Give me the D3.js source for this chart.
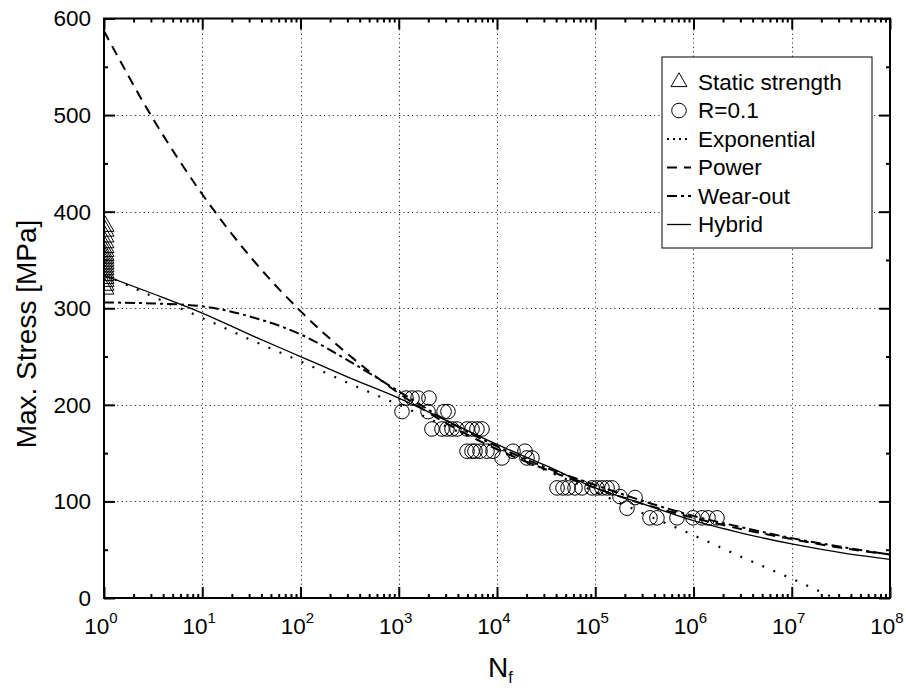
<!DOCTYPE html>
<html>
<head>
<meta charset="utf-8">
<script src="https://cdn.jsdelivr.net/npm/d3@7/dist/d3.min.js"></script>
<style>
  html, body { margin: 0; padding: 0; background: #fff; }
  svg { display: block; font-family: Arial, "Liberation Sans", sans-serif; }
</style>
</head>
<body>
<svg id="chart" width="906" height="690"></svg>
<script>
// ---- data ----
// static strength tests (N = 1)
const staticN = [1,1,1,1,1,1,1,1,1,1,1,1,1,1,1,1,1,1];
const staticS = [385,380,374,368,363,359,355,352,349,346,343,340,337,334,331,328,324,320];

// fatigue tests, R = 0.1
const fatigueN = [1186,1365,1570,2032,
  1079,1986,2891,3170,
  2178,2754,3097,3483,3917,4955,5572,6252,7031,
  4955,5572,5970,6714,7907,9099,14550,19280,
  11250,20180,22700,
  40830,46990,52840,62230,73280,92680,104200,117200,131800,147900,
  178600,254100,210400,
  360600,424600,679200,988500,1222000,1406000,1734000];
const fatigueS = [207,207,207,207,
  193,193,193,193,
  175,175,175,175,175,175,175,175,175,
  152,152,152,152,152,152,152,152,
  145,145,145,
  114,114,114,114,114,114,114,114,114,114,
  105,104,93,
  83,83,83,83,83,83,83];

// model curves sampled every half decade (N = 10^k)
const curveExp = [0,0.5,1,1.5,2,2.5,3,3.5,4,4.5,5,5.5,6,6.5,7,7.5,8];
const expoS   = [335,312,290,267,245,222,200,177,155,132,110,87,65,42,20,-3,-25];
const powerS  = [587,496,418,352,297,251,212,180,154,133,114,97,83,71,61,52,45];
const wearS   = [306,305,302,291,273,245,214,183,157,135,117,100,85,73,62,53,45];
const hybridS = [334,315,295,272,250,228,207,183,159,137,114,97,80,67,56,47,40];

const xMajor = [1e0,1e1,1e2,1e3,1e4,1e5,1e6,1e7,1e8];
const xMajorExp = ["0","1","2","3","4","5","6","7","8"];
const yMajor = [0,100,200,300,400,500,600];
const yMinor = [50,150,250,350,450,550];

const legendLabels = ["Static strength","R=0.1","Exponential","Power","Wear-out","Hybrid"];

// ---- layout ----
const svg = d3.select("#chart");
const L = 104, R = 890, T = 18.5, B = 598;
const x = d3.scaleLog().domain([1, 1e8]).range([L, R]);
const y = d3.scaleLinear().domain([0, 600]).range([B, T]);
const fontTick = 22.5;

svg.append("defs").append("clipPath").attr("id", "plotclip")
  .append("rect").attr("x", L).attr("y", T).attr("width", R - L).attr("height", B - T);

// ---- grid ----
const grid = svg.append("g").attr("stroke", "#333").attr("stroke-width", 1)
  .attr("stroke-dasharray", "1.2,3.2");
grid.selectAll("line.gx").data(xMajor.slice(1, -1)).join("line")
  .attr("x1", d => Math.round(x(d)) + 0.5).attr("x2", d => Math.round(x(d)) + 0.5)
  .attr("y1", B).attr("y2", T);
grid.selectAll("line.gy").data(yMajor.slice(1, -1)).join("line")
  .attr("x1", L).attr("x2", R)
  .attr("y1", d => Math.round(y(d)) + 0.5).attr("y2", d => Math.round(y(d)) + 0.5);

// ---- data layer ----
const plot = svg.append("g").attr("clip-path", "url(#plotclip)");

const pts = arr => curveExp.map((k, i) => [Math.pow(10, k), arr[i]]);
const line = d3.line().x(d => x(d[0])).y(d => y(d[1])).curve(d3.curveMonotoneX);

const styles = {
  expo:   {dash: "2,10", w: 2.2},
  power:  {dash: "10,7", w: 2},
  wear:   {dash: "10,4,3,4", w: 2},
  hybrid: {dash: null, w: 1.3}
};
const series = [
  {key: "expo", vals: expoS},
  {key: "power", vals: powerS},
  {key: "wear", vals: wearS},
  {key: "hybrid", vals: hybridS}
];
series.forEach(s => {
  const st = styles[s.key];
  plot.append("path").datum(pts(s.vals))
    .attr("d", line).attr("fill", "none").attr("stroke", "#000")
    .attr("stroke-width", st.w).attr("stroke-dasharray", st.dash);
});

const tri = d3.symbol().type(d3.symbolTriangle).size(140);
plot.selectAll("path.tri").data(staticN.map((n, i) => [n, staticS[i]])).join("path")
  .attr("class", "tri").attr("d", tri)
  .attr("transform", d => `translate(${x(d[0]) + 1},${y(d[1])})`)
  .attr("fill", "none").attr("stroke", "#000").attr("stroke-width", 1);

plot.selectAll("circle.pt").data(fatigueN.map((n, i) => [n, fatigueS[i]])).join("circle")
  .attr("class", "pt").attr("cx", d => x(d[0])).attr("cy", d => y(d[1])).attr("r", 7.3)
  .attr("fill", "none").attr("stroke", "#000").attr("stroke-width", 1);

// ---- axes ----
const minorX = [];
for (let e = 0; e < 8; e++) for (let m = 2; m <= 9; m++) minorX.push(m * Math.pow(10, e));

function styleAxis(g) {
  g.select(".domain").remove();
  g.selectAll(".tick line").attr("stroke", "#000").attr("stroke-width", 2);
  g.selectAll(".tick text").remove();
}
svg.append("g").attr("transform", `translate(0,${B})`)
  .call(d3.axisBottom(x).tickValues(xMajor).tickSize(-11).tickFormat(() => "")).call(styleAxis);
svg.append("g").attr("transform", `translate(0,${B})`)
  .call(d3.axisBottom(x).tickValues(minorX).tickSize(-4).tickFormat(() => "")).call(styleAxis);
svg.append("g").attr("transform", `translate(0,${T})`)
  .call(d3.axisTop(x).tickValues(xMajor).tickSize(-11).tickFormat(() => "")).call(styleAxis);
svg.append("g").attr("transform", `translate(0,${T})`)
  .call(d3.axisTop(x).tickValues(minorX).tickSize(-4).tickFormat(() => "")).call(styleAxis);
svg.append("g").attr("transform", `translate(${L},0)`)
  .call(d3.axisLeft(y).tickValues(yMajor).tickSize(-11).tickFormat(() => "")).call(styleAxis);
svg.append("g").attr("transform", `translate(${L},0)`)
  .call(d3.axisLeft(y).tickValues(yMinor).tickSize(-4).tickFormat(() => "")).call(styleAxis);
svg.append("g").attr("transform", `translate(${R},0)`)
  .call(d3.axisRight(y).tickValues(yMajor).tickSize(-11).tickFormat(() => "")).call(styleAxis);
svg.append("g").attr("transform", `translate(${R},0)`)
  .call(d3.axisRight(y).tickValues(yMinor).tickSize(-4).tickFormat(() => "")).call(styleAxis);

// frame
svg.append("rect").attr("x", L).attr("y", T).attr("width", R - L).attr("height", B - T)
  .attr("fill", "none").attr("stroke", "#000").attr("stroke-width", 2);

// y tick labels
svg.append("g").selectAll("text").data(yMajor).join("text")
  .attr("x", L - 13).attr("y", d => y(d)).attr("dy", "0.35em")
  .attr("text-anchor", "end").attr("font-size", fontTick).text(d => d);

// x tick labels: 10 with superscript exponent
const xl = svg.append("g").selectAll("text").data(xMajor).join("text")
  .attr("x", d => x(d) - 3).attr("y", 634).attr("text-anchor", "middle")
  .attr("font-size", fontTick);
xl.append("tspan").text("10");
xl.append("tspan").attr("font-size", 15).attr("dy", -11).text((d, i) => xMajorExp[i]);

// axis titles
const xt = svg.append("text").attr("x", 488).attr("y", 677).attr("font-size", 28);
xt.append("tspan").text("N");
xt.append("tspan").attr("font-size", 16).attr("dy", 6).text("f");

svg.append("text").attr("transform", "translate(36,334) rotate(-90)")
  .attr("text-anchor", "middle").attr("font-size", 28).text("Max. Stress [MPa]");

// ---- legend ----
const lg = svg.append("g");
lg.append("rect").attr("x", 662).attr("y", 57).attr("width", 210).attr("height", 191)
  .attr("fill", "#fff").attr("stroke", "#000").attr("stroke-width", 1);
const rowY = i => 82 + i * 28.5;
const sx0 = 667, sx1 = 691, sc = (sx0 + sx1) / 2;
lg.append("path").attr("d", d3.symbol().type(d3.symbolTriangle).size(110))
  .attr("transform", `translate(${sc},${rowY(0)})`)
  .attr("fill", "none").attr("stroke", "#000");
lg.append("circle").attr("cx", sc).attr("cy", rowY(1)).attr("r", 7.3)
  .attr("fill", "none").attr("stroke", "#000");
series.forEach((s, i) => {
  const st = styles[s.key];
  lg.append("line").attr("x1", sx0).attr("x2", sx1)
    .attr("y1", rowY(i + 2)).attr("y2", rowY(i + 2))
    .attr("stroke", "#000").attr("stroke-width", st.w)
    .attr("stroke-dasharray", s.key === "expo" ? "2,4" : st.dash);
});
lg.selectAll("text").data(legendLabels).join("text")
  .attr("x", 698).attr("y", (d, i) => rowY(i)).attr("dy", "0.35em")
  .attr("font-size", fontTick).text(d => d);
</script>
</body>
</html>
